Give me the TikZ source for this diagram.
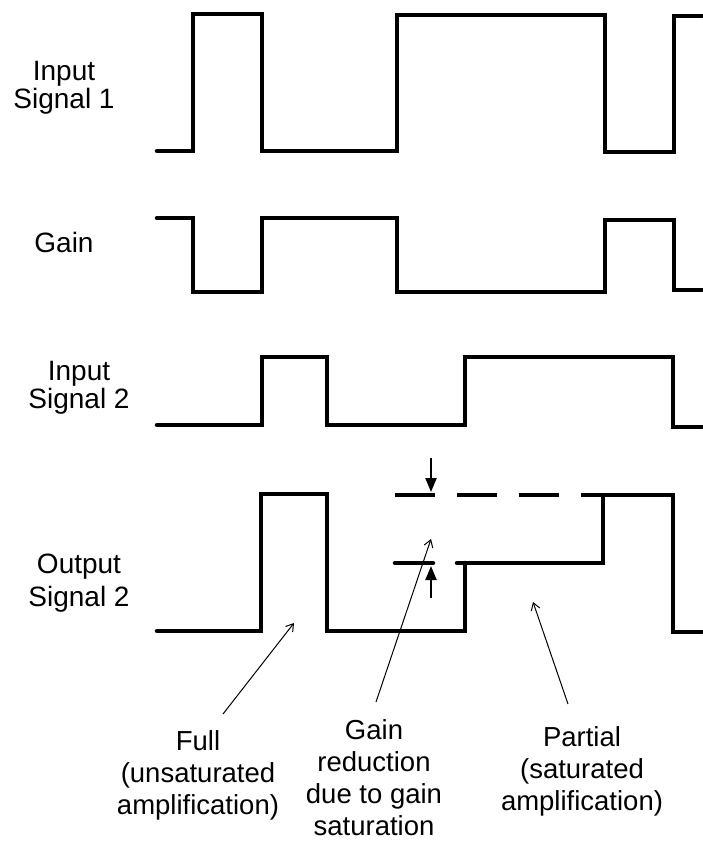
\documentclass[tikz,border=0pt]{standalone}
\usepackage{fontspec}
\setmainfont{Liberation Sans}
\usetikzlibrary{arrows.meta}
\tikzset{
  wave/.style={line width=4.5pt, line cap=round, line join=miter},
  dashwave/.style={line width=4.5pt, dash pattern=on 40pt off 22pt},
  lbl/.style={align=center, inner sep=0pt, font=\fontsize{28}{28}\selectfont},
  lblwide/.style={align=center, inner sep=0pt, font=\fontsize{28}{33}\selectfont},
  lblbot/.style={align=center, inner sep=0pt, font=\fontsize{27.5}{32}\selectfont},
  annot/.style={line width=1pt, -{Straight Barb[length=7pt,width=9pt]}},
  gainmark/.style={line width=2.2pt, -{Triangle[length=14pt,width=11pt]}}
}
\begin{document}
\begin{tikzpicture}[x=1pt,y=-1pt]
\useasboundingbox (0,0) rectangle (702,843);
% left labels
\node[lbl] (lin1) at (64,88) {Input\\Signal 1};
\node[lbl] (lgain) at (64,242) {Gain};
\node[lbl] (lin2) at (79,388) {Input\\Signal 2};
\node[lblwide] (lout2) at (79,583) {Output\\Signal 2};
% waveforms
\draw[wave] (157,151) -- (193,151) -- (193,14) -- (262,14) -- (262,151) -- (397,151) -- (397,15) -- (605,15) -- (605,152) -- (674,152) -- (674,16) -- (702,16);
\draw[wave] (157,218) -- (193,218) -- (193,292) -- (262,292) -- (262,218) -- (397,218) -- (397,292) -- (605,292) -- (605,220) -- (674,220) -- (674,290) -- (702,290);
\draw[wave] (157,425) -- (262,425) -- (262,357) -- (327,357) -- (327,425) -- (465,425) -- (465,357) -- (673,357) -- (673,427) -- (702,427);
\draw[wave] (157,631) -- (261,631) -- (261,494) -- (327,494) -- (327,631) -- (465,631) -- (465,563);
\draw[wave] (457,563) -- (603,563) -- (603,495) -- (673,495) -- (673,632) -- (702,632);
\draw[dashwave] (395,495) -- (603,495);
\draw[wave] (395,563) -- (433,563);
% gain reduction markers
\coordinate (dtop) at (431,458);
\coordinate (dtip) at (431,492);
\coordinate (utail) at (431,598);
\coordinate (utip) at (431,566);
\draw[gainmark] (dtop) -- (dtip);
\draw[gainmark] (utail) -- (utip);
% bottom labels
\node[lblbot] (full) at (198,775) {Full\\(unsaturated\\amplification)};
\node[lblbot] (gred) at (374,778) {Gain\\reduction\\due to gain\\saturation};
\node[lblbot] (part) at (582,771) {Partial\\(saturated\\amplification)};
\coordinate (tfull) at (294,623);
\coordinate (tgred) at (431,539);
\coordinate (tpart) at (533,602);
\draw[annot] (223,714) -- (tfull);
\draw[annot] (376,702) -- (tgred);
\draw[annot] (568,704) -- (tpart);
\end{tikzpicture}
\end{document}
